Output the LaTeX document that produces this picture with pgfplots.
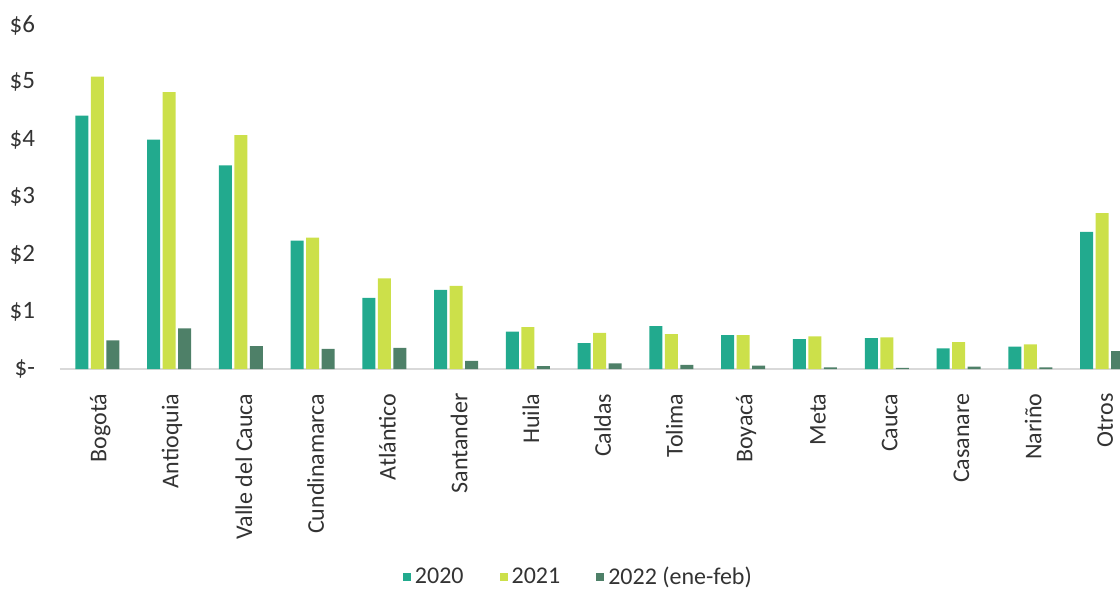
\documentclass[border=0pt]{standalone}
\usepackage{pgfplots}
\pgfplotsset{compat=1.18}
\usepackage{fontspec}
\setmainfont{Carlito}
\definecolor{c2020}{HTML}{22AA8E}
\definecolor{c2021}{HTML}{CCE04A}
\definecolor{c2022}{HTML}{4E8068}
\definecolor{txt}{HTML}{333333}
\begin{document}
\begin{tikzpicture}
\useasboundingbox (-30pt,-110pt) rectangle (530pt,184.5pt);
\begin{axis}[
  scale only axis,
  width=530pt, height=172pt,
  xmin=-0.52, xmax=14.25,
  ymin=0, ymax=6,
  ybar=1.25pt, bar width=6.5pt,
  axis lines*=left,
  y axis line style={draw=none},
  x axis line style={draw=black!15, line width=0.6pt},
  major tick style={draw=none},
  xtick={0,...,14},
  xticklabels={Bogotá,Antioquia,Valle del Cauca,Cundinamarca,Atlántico,Santander,Huila,Caldas,Tolima,Boyacá,Meta,Cauca,Casanare,Nariño,Otros},
  xticklabel style={rotate=90, anchor=east, font=\fontsize{12}{14}\selectfont, text=txt, yshift=-1.5pt, xshift=-4.5pt},
  ytick={0,1,2,3,4,5,6},
  yticklabels={\$-,\$1,\$2,\$3,\$4,\$5,\$6},
  yticklabel style={anchor=east, font=\fontsize{12.5}{14}\selectfont, text=txt, xshift=-9pt},
  legend columns=3,
  legend style={at={(0.49,-0.605)}, anchor=center, draw=none, fill=none,
    font=\fontsize{12}{14}\selectfont, text=txt,
    /tikz/every even column/.append style={column sep=16pt}},
  legend image code/.code={\fill[#1,draw=none] (0pt,-2pt) rectangle (4pt,2pt);},
]
\addplot[fill=c2020, draw=none] coordinates {
(0,4.42) (1,4.00) (2,3.55) (3,2.24) (4,1.24) (5,1.38) (6,0.65) (7,0.45) (8,0.75) (9,0.59) (10,0.52) (11,0.54) (12,0.36) (13,0.39) (14,2.39)};
\addplot[fill=c2021, draw=none] coordinates {
(0,5.10) (1,4.83) (2,4.08) (3,2.29) (4,1.58) (5,1.45) (6,0.73) (7,0.63) (8,0.61) (9,0.59) (10,0.57) (11,0.55) (12,0.47) (13,0.43) (14,2.72)};
\addplot[fill=c2022, draw=none] coordinates {
(0,0.50) (1,0.71) (2,0.40) (3,0.35) (4,0.37) (5,0.14) (6,0.05) (7,0.10) (8,0.07) (9,0.06) (10,0.03) (11,0.02) (12,0.04) (13,0.03) (14,0.31)};
\legend{2020,2021,2022 (ene-feb)}
\end{axis}
\end{tikzpicture}
\end{document}
